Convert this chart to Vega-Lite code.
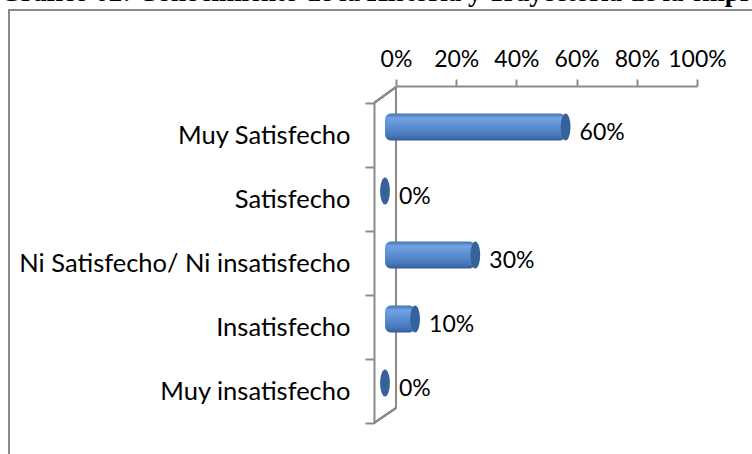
{
  "$schema": "https://vega.github.io/schema/vega-lite/v6.json",
  "width": 760,
  "height": 460,
  "autosize": {"type": "none"},
  "padding": {"left": 9, "top": 10, "right": 0, "bottom": 0},
  "background": "white",
  "title": {
    "text": "Gráfico 02: Conocimiento de la Historia y Trayectoria de la empresa",
    "anchor": "start",
    "frame": "group",
    "font": "Liberation Serif",
    "fontSize": 27,
    "fontWeight": "bold",
    "color": "black",
    "baseline": "alphabetic",
    "offset": -30,
    "dx": -9,
    "limit": 0
  },
  "config": {
    "view": {"stroke": "#8a8a8a", "strokeWidth": 2},
    "font": "Lato"
  },
  "data": {
    "values": [
      {"cat": "Muy Satisfecho", "v": 0.6, "lbl": "60%"},
      {"cat": "Satisfecho", "v": 0.0, "lbl": "0%"},
      {"cat": "Ni Satisfecho/ Ni insatisfecho", "v": 0.3, "lbl": "30%"},
      {"cat": "Insatisfecho", "v": 0.1, "lbl": "10%"},
      {"cat": "Muy insatisfecho", "v": 0.0, "lbl": "0%"}
    ]
  },
  "layer": [
    {
      "mark": {"type": "rule", "color": "#8a8a8a", "strokeWidth": 2, "yOffset": -48, "y2Offset": 17},
      "encoding": {
        "x": {"datum": 0, "type": "quantitative"},
        "y": {"datum": "Muy Satisfecho", "type": "nominal"},
        "y2": {"datum": "Muy insatisfecho"}
      }
    },
    {
      "mark": {"type": "rule", "color": "#8a8a8a", "strokeWidth": 2, "xOffset": -22, "yOffset": -32, "y2Offset": -48},
      "encoding": {
        "x": {"datum": 0, "type": "quantitative"},
        "x2": {"datum": 0},
        "y": {"datum": "Muy Satisfecho", "type": "nominal"},
        "y2": {"datum": "Muy Satisfecho"}
      }
    },
    {
      "mark": {"type": "rule", "color": "#8a8a8a", "strokeWidth": 2, "xOffset": -22, "yOffset": 32, "y2Offset": 17},
      "encoding": {
        "x": {"datum": 0, "type": "quantitative"},
        "x2": {"datum": 0},
        "y": {"datum": "Muy insatisfecho", "type": "nominal"},
        "y2": {"datum": "Muy insatisfecho"}
      }
    },
    {
      "mark": {
        "type": "bar",
        "size": 27,
        "cornerRadius": 6,
        "xOffset": -11,
        "x2Offset": -11,
        "yOffset": -8,
        "y2Offset": -8,
        "fill": {
          "gradient": "linear",
          "x1": 0, "y1": 0, "x2": 0, "y2": 1,
          "stops": [
            {"offset": 0, "color": "#4574b3"},
            {"offset": 0.18, "color": "#70a3e0"},
            {"offset": 0.5, "color": "#5a8ed0"},
            {"offset": 0.85, "color": "#4474b8"},
            {"offset": 1, "color": "#2f5a93"}
          ]
        }
      },
      "encoding": {
        "x": {
          "field": "v",
          "type": "quantitative",
          "scale": {"domain": [0, 1], "range": [387, 688]},
          "axis": {
            "orient": "top",
            "offset": -76,
            "values": [0, 0.2, 0.4, 0.6, 0.8, 1],
            "format": ".0%",
            "title": null,
            "grid": false,
            "domainColor": "#8a8a8a",
            "domainWidth": 2,
            "tickColor": "#8a8a8a",
            "tickWidth": 2,
            "tickSize": 7,
            "labelFont": "Lato",
            "labelFontSize": 23,
            "labelColor": "black",
            "labelPadding": 8,
            "labelFlush": false,
            "labelOverlap": false
          }
        },
        "x2": {"datum": 0},
        "y": {
          "field": "cat",
          "type": "nominal",
          "sort": ["Muy Satisfecho", "Satisfecho", "Ni Satisfecho/ Ni insatisfecho", "Insatisfecho", "Muy insatisfecho"],
          "scale": {"range": [93, 413], "paddingInner": 0, "paddingOuter": 0},
          "axis": {
            "orient": "left",
            "offset": -365,
            "title": null,
            "domainColor": "#8a8a8a",
            "domainWidth": 2,
            "tickColor": "#8a8a8a",
            "tickWidth": 2,
            "tickSize": 9,
            "tickBand": "extent",
            "labelFont": "Lato",
            "labelFontSize": 25.5,
            "labelColor": "black",
            "labelPadding": 15,
            "labelLimit": 0
          }
        }
      }
    },
    {
      "mark": {
        "type": "point",
        "shape": "M0,-1 A0.36,1 0 1,1 0,1 A0.36,1 0 1,1 0,-1 Z",
        "size": 729,
        "filled": true,
        "opacity": 1,
        "fill": "#36629c",
        "strokeWidth": 0,
        "xOffset": -11,
        "yOffset": -8
      },
      "encoding": {
        "x": {"field": "v", "type": "quantitative"},
        "y": {"field": "cat", "type": "nominal", "sort": ["Muy Satisfecho", "Satisfecho", "Ni Satisfecho/ Ni insatisfecho", "Insatisfecho", "Muy insatisfecho"]}
      }
    },
    {
      "mark": {"type": "text", "align": "left", "baseline": "middle", "dx": 3, "dy": -2, "font": "Lato", "fontSize": 23, "color": "black"},
      "encoding": {
        "x": {"field": "v", "type": "quantitative"},
        "y": {"field": "cat", "type": "nominal", "sort": ["Muy Satisfecho", "Satisfecho", "Ni Satisfecho/ Ni insatisfecho", "Insatisfecho", "Muy insatisfecho"]},
        "text": {"field": "lbl"}
      }
    }
  ]
}
